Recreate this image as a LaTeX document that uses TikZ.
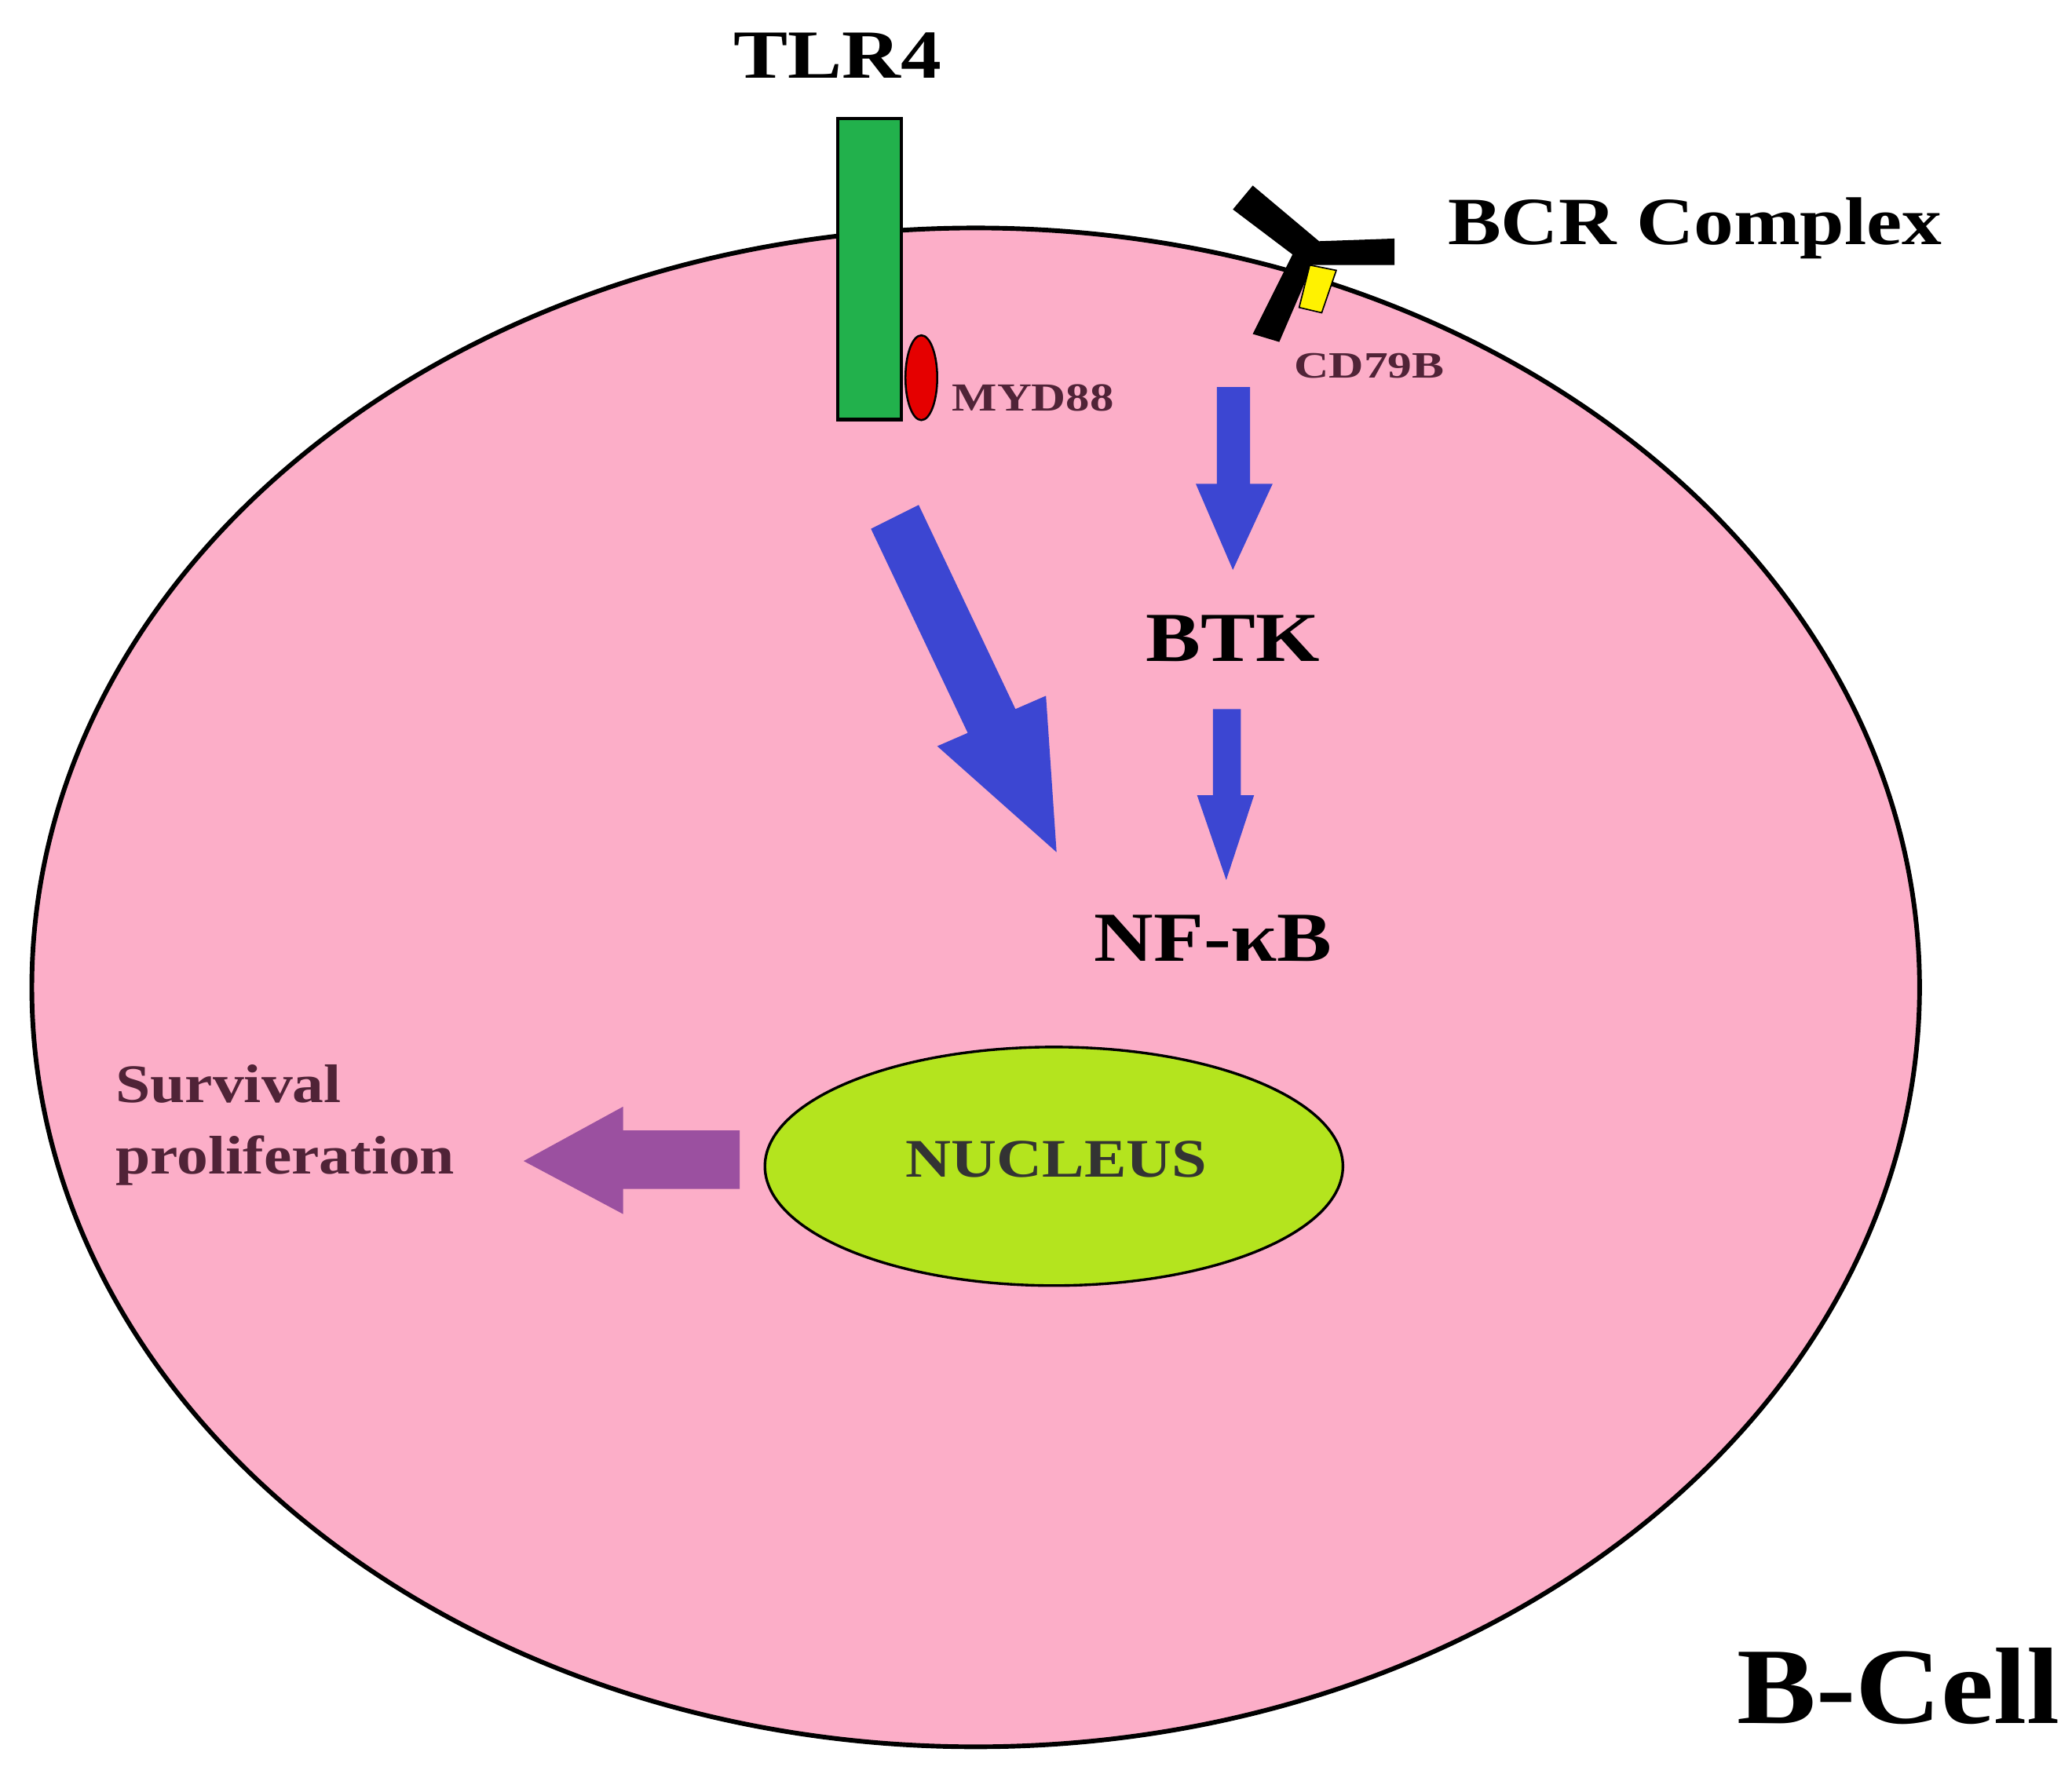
\documentclass[tikz,border=0pt]{standalone}
\usepackage{fontspec}
\setmainfont{Liberation Serif}
\usetikzlibrary{shapes.geometric}
\begin{document}
\begin{tikzpicture}[x=1pt,y=-1pt,
  lbl/.style={inner sep=0pt,font=\bfseries,transform shape},
  wide/.style={xscale=#1},
]
\definecolor{cellpink}{RGB}{252,174,200}
\definecolor{nucgreen}{RGB}{180,228,30}
\definecolor{tlrgreen}{RGB}{34,177,76}
\definecolor{barrow}{RGB}{60,70,210}
\definecolor{parrow}{RGB}{155,80,160}
\definecolor{survtxt}{RGB}{80,35,55}
\useasboundingbox (0,0) rectangle (1563,1338);
\fill[white] (0,0) rectangle (1563,1338);
% cell
\node[draw=black,line width=3.5pt,fill=cellpink,ellipse,minimum width=1424,minimum height=1146,inner sep=0pt] (cell) at (736,745) {};
% TLR4
\node[lbl,wide=1.18,font=\bfseries\fontsize{52}{56}\selectfont] (tlr4) at (632,42) {TLR4};
\node[draw=black,line width=2.5pt,fill=tlrgreen,minimum width=48,minimum height=227,inner sep=0pt] (tlrbar) at (656,203) {};
\node[draw=black,line width=1.5pt,fill=red!90!black,ellipse,minimum width=24,minimum height=64,inner sep=0pt] (myd) at (695,285) {};
\node[lbl,wide=1.2,anchor=west,font=\bfseries\fontsize{30}{32}\selectfont,text=survtxt] (mydl) at (718,300) {MYD88};
% BCR
\fill[black] (930,158) -- (945,140) -- (995,182) -- (1052,180) -- (1052,200) -- (990,200) -- (965,258) -- (945,252) -- (975,192) -- cycle;
\fill[yellow,draw=black,line width=1pt] (988,200) -- (1008,204) -- (997,236) -- (980,232) -- cycle;
\node[lbl,wide=1.18,anchor=west,font=\bfseries\fontsize{51}{54}\selectfont] (bcr) at (1092,172) {BCR Complex};
\node[lbl,wide=1.3,anchor=west,font=\bfseries\fontsize{28}{30}\selectfont,text=survtxt] (cd79) at (976,276) {CD79B};
% arrows
\fill[barrow] (918,292) -- (943,292) -- (943,365) -- (960,365) -- (930,430) -- (902,365) -- (918,365) -- cycle;
\node[lbl,wide=1.17,font=\bfseries\fontsize{53}{56}\selectfont] (btk) at (930,482) {BTK};
\fill[barrow] (915,535) -- (936,535) -- (936,600) -- (946,600) -- (925,664) -- (903,600) -- (915,600) -- cycle;
\node[lbl,wide=1.17,font=\bfseries\fontsize{53}{56}\selectfont] (nfkb) at (915,708) {NF-κB};
\fill[barrow] (657,399) -- (693,381) -- (766,535) -- (789,525) -- (797,643) -- (707,563) -- (730,553) -- cycle;
% nucleus
\node[draw=black,line width=2pt,fill=nucgreen,ellipse,minimum width=436,minimum height=180,inner sep=0pt] (nuc) at (795,880) {};
\node[lbl,wide=1.16,font=\bfseries\fontsize{41}{44}\selectfont,text=black!80] (nucl) at (797,875) {NUCLEUS};
\fill[parrow] (558,853) -- (558,897) -- (470,897) -- (470,916) -- (395,876) -- (470,835) -- (470,853) -- cycle;
\node[lbl,wide=1.15,anchor=north west,align=left,font=\bfseries\fontsize{41}{54}\selectfont,text=survtxt] (surv) at (87,803) {Survival\\proliferation};
\node[lbl,wide=1.09,font=\bfseries\fontsize{82}{86}\selectfont] (bcell) at (1432,1272) {B-Cell};
\end{tikzpicture}
\end{document}
